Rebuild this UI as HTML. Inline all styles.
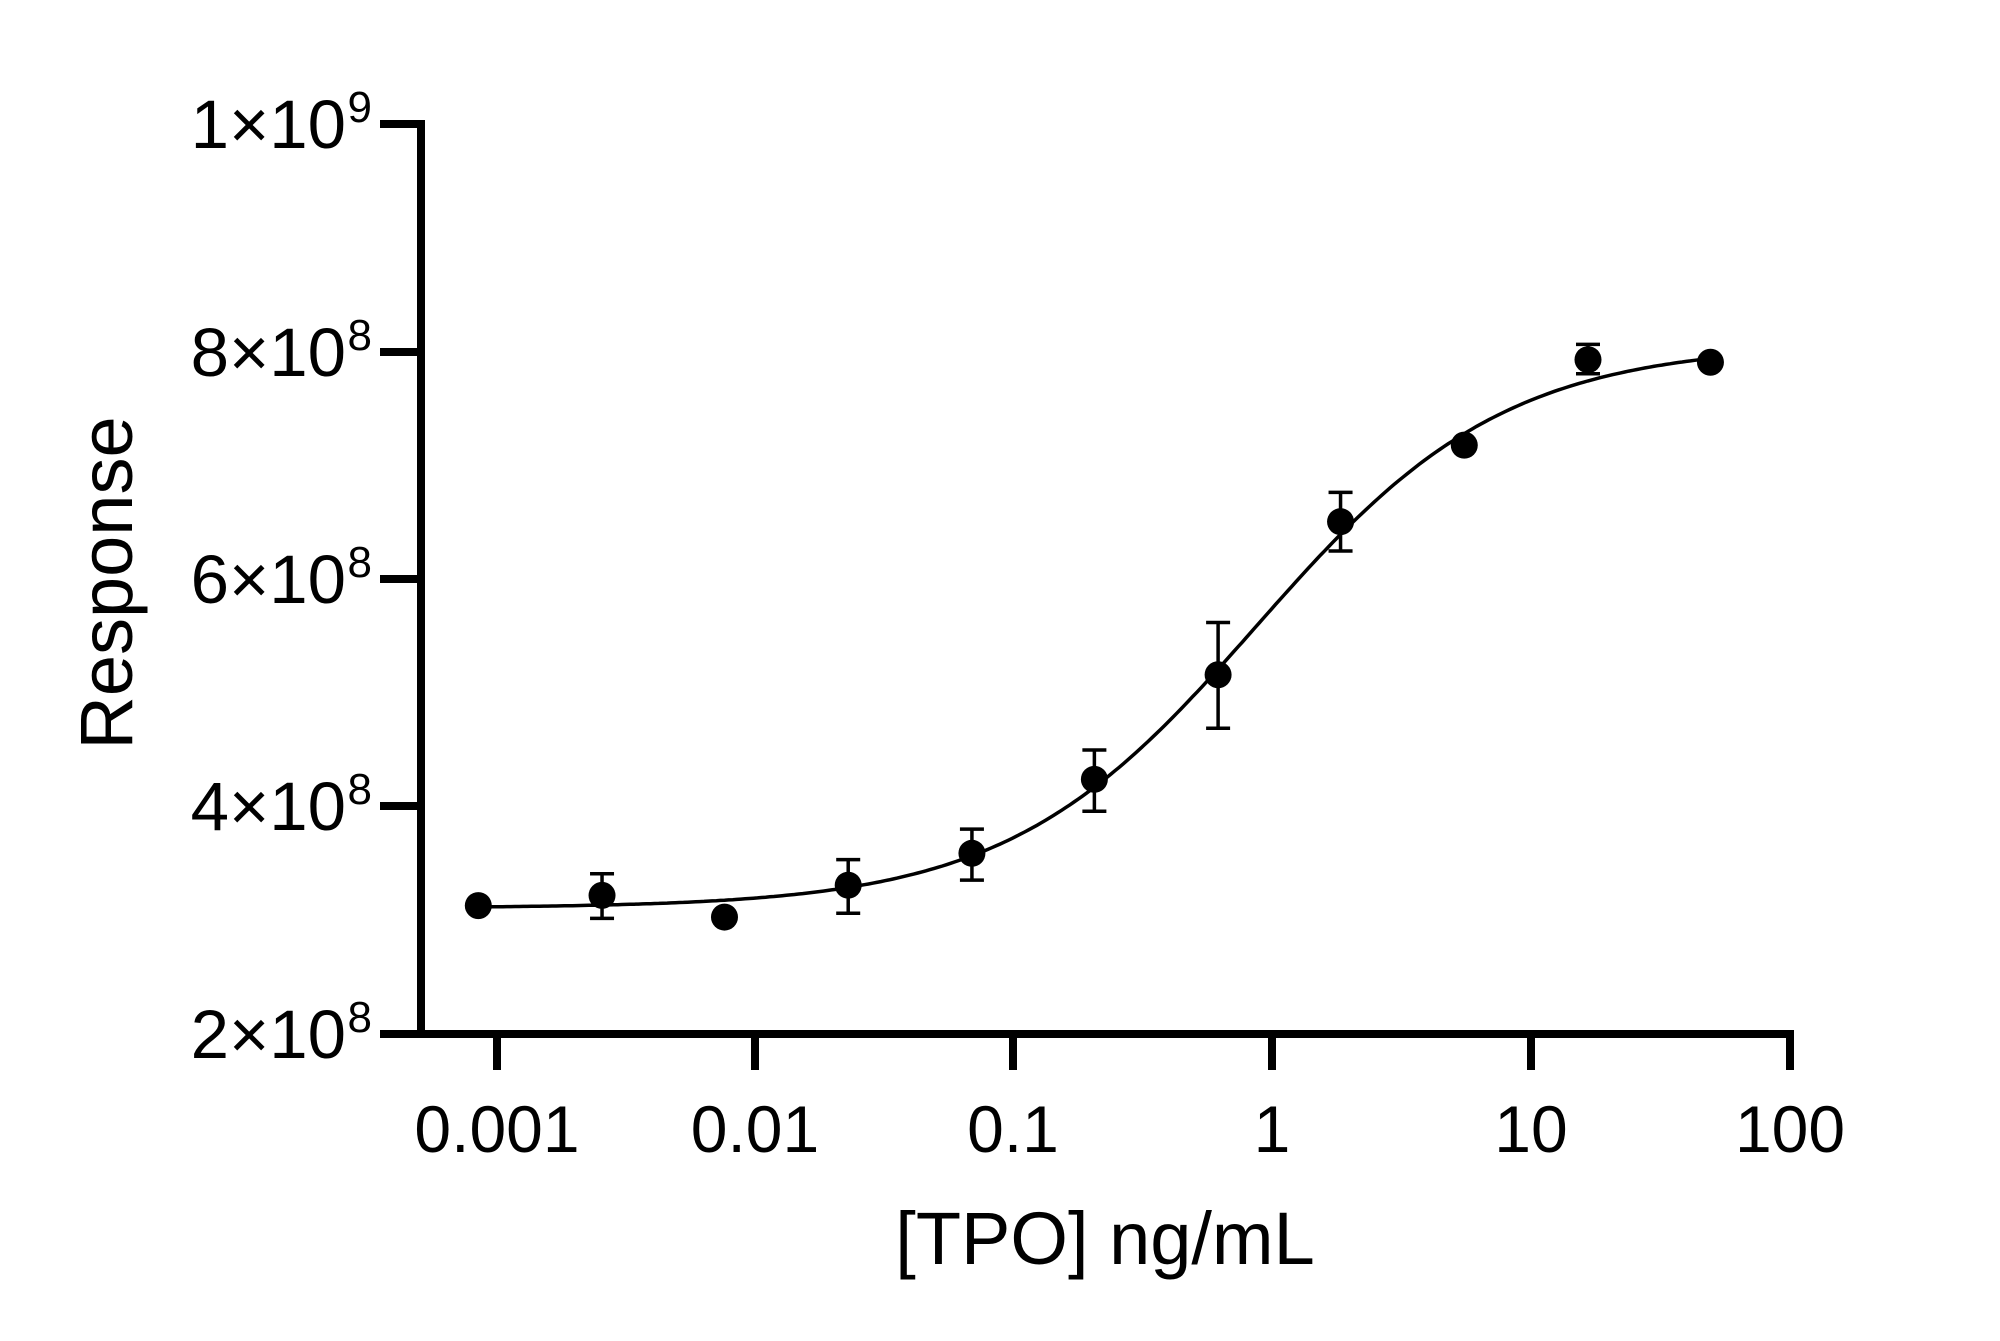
<!DOCTYPE html>
<html><head><meta charset="utf-8"><style>
html,body{margin:0;padding:0;background:#fff}
svg{display:block}
text{font-family:"Liberation Sans",Arial,sans-serif;fill:#000}
</style></head><body>
<svg id="s" width="2000" height="1341" viewBox="0 0 2000 1341" xmlns="http://www.w3.org/2000/svg">
<g stroke="#000" stroke-width="8" fill="none" stroke-linecap="butt">
<line x1="421" y1="120" x2="421" y2="1038"/>
<line x1="417" y1="1034" x2="1794" y2="1034"/>
<line x1="380" y1="124" x2="421" y2="124"/>
<line x1="380" y1="352" x2="421" y2="352"/>
<line x1="380" y1="579" x2="421" y2="579"/>
<line x1="380" y1="806" x2="421" y2="806"/>
<line x1="380" y1="1034" x2="421" y2="1034"/>
<line x1="497" y1="1034" x2="497" y2="1070"/>
<line x1="755" y1="1034" x2="755" y2="1070"/>
<line x1="1013" y1="1034" x2="1013" y2="1070"/>
<line x1="1272" y1="1034" x2="1272" y2="1070"/>
<line x1="1531" y1="1034" x2="1531" y2="1070"/>
<line x1="1790" y1="1034" x2="1790" y2="1070"/>
</g>
<g font-size="69" text-anchor="end">
<text x="346" y="148">1×10</text><text x="372" y="122" font-size="44">9</text>
<text x="346" y="376">8×10</text><text x="372" y="350" font-size="44">8</text>
<text x="346" y="603">6×10</text><text x="372" y="577" font-size="44">8</text>
<text x="346" y="830">4×10</text><text x="372" y="804" font-size="44">8</text>
<text x="346" y="1058">2×10</text><text x="372" y="1032" font-size="44">8</text>
</g>
<g font-size="66" text-anchor="middle">
<text x="497" y="1152">0.001</text>
<text x="755" y="1152">0.01</text>
<text x="1013" y="1152">0.1</text>
<text x="1272" y="1152">1</text>
<text x="1531" y="1152">10</text>
<text x="1790" y="1152">100</text>
</g>
<text x="1105" y="1264" font-size="74" text-anchor="middle">[TPO] ng/mL</text>
<text transform="translate(132,583) rotate(-90)" font-size="74" text-anchor="middle">Response</text>
<path id="curve" fill="none" stroke="#000" stroke-width="3.5"/>
<g id="pts"></g>
</svg>
<script>
(function(){
var d="";
for(var i=0;i<=300;i++){
 var px=478+i*(1711-478)/300;
 var lx=(px-1272)/258.4;
 var py=908+(344-908)/(1+Math.pow(10,(-0.06-lx)*0.9));
 d+=(i?"L":"M")+px.toFixed(1)+" "+py.toFixed(1);
}
document.getElementById("curve").setAttribute("d",d);
var s=1.2755;
var P=[[375,710],[472,702,685,720],[568,719],[665,694,674,716],[762,669,650,690],[858,611,588,636],[955,529,488,571],[1051,409,386,432],[1148,349],[1245,282,270,293],[1341,284]];
var h="";
P.forEach(function(p){
 var x=p[0]*s,y=p[1]*s;
 if(p.length>2){var a=p[2]*s,b=p[3]*s;
  h+='<path d="M'+x+' '+a+'V'+b+'M'+(x-12)+' '+a+'H'+(x+12)+'M'+(x-12)+' '+b+'H'+(x+12)+'" stroke="#000" stroke-width="3.5" fill="none"/>';}
 h+='<circle cx="'+x+'" cy="'+y+'" r="13.5" fill="#000"/>';
});
document.getElementById("pts").innerHTML=h;
})();
</script>
</body></html>
